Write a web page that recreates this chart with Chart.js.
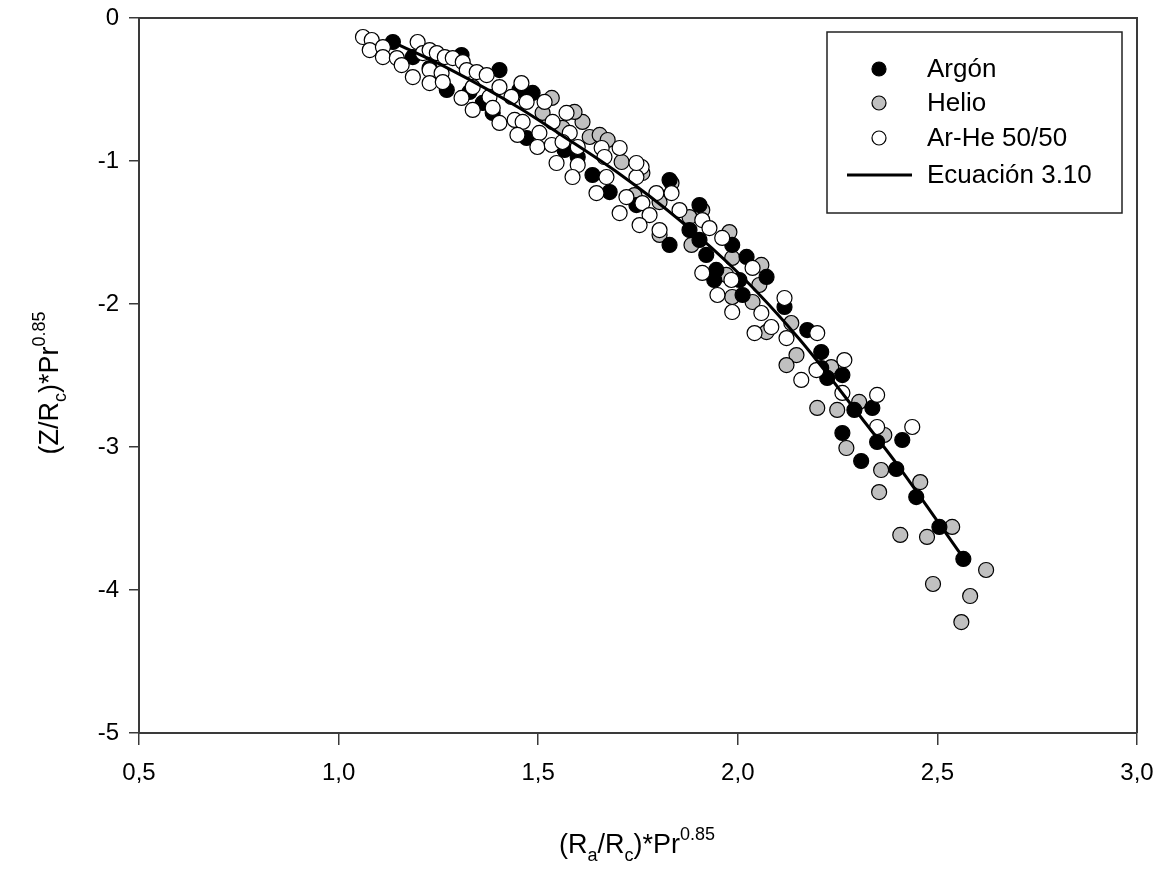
<!DOCTYPE html>
<html>
<head>
<meta charset="utf-8">
<script src="https://cdn.jsdelivr.net/npm/chart.js@4.4.0/dist/chart.umd.min.js"></script>
<style>
html, body { margin: 0; padding: 0; background: #fff; }
#wrap { width: 1157px; height: 869px; }
</style>
</head>
<body>
<div id="wrap"><canvas id="chart" width="1157" height="869"></canvas></div>
<script>
// Argón (black)
const argonX = [1.136, 1.186, 1.228, 1.308, 1.271, 1.328, 1.361, 1.386, 1.403, 1.453,
                1.486, 1.471, 1.566, 1.599, 1.636, 1.679, 1.746, 1.829, 1.829, 1.904,
                1.879, 1.904, 1.986, 1.921, 1.946, 1.941, 2.022, 2.004, 2.072, 2.012,
                2.117, 2.174, 2.209, 2.209, 2.224, 2.262, 2.292, 2.337, 2.262, 2.349,
                2.412, 2.309, 2.397, 2.447, 2.505, 2.565];
const argonY = [-0.168, -0.273, -0.350, -0.259, -0.503, -0.517, -0.594, -0.664, -0.364, -0.503,
                -0.524, -0.839, -0.923, -0.972, -1.098, -1.217, -1.308, -1.133, -1.587, -1.308,
                -1.483, -1.552, -1.587, -1.657, -1.762, -1.832, -1.671, -1.832, -1.811, -1.937,
                -2.021, -2.182, -2.336, -2.448, -2.517, -2.497, -2.741, -2.727, -2.902, -2.965,
                -2.951, -3.098, -3.154, -3.350, -3.559, -3.783];

// Helio (gray)
const helioX = [1.534, 1.511, 1.561, 1.611, 1.591, 1.629, 1.654, 1.674, 1.709, 1.761,
                1.834, 1.741, 1.804, 1.911, 1.879, 1.979, 1.884, 1.804, 1.986, 2.059,
                2.054, 1.971, 1.986, 2.037, 2.134, 2.072, 2.147, 2.122, 2.234, 2.199,
                2.249, 2.304, 2.367, 2.272, 2.359, 2.354, 2.457, 2.407, 2.474, 2.537,
                2.622, 2.489, 2.582, 2.560];
const helioY = [-0.559, -0.664, -0.769, -0.727, -0.657, -0.832, -0.818, -0.853, -1.007, -1.084,
                -1.154, -1.238, -1.287, -1.343, -1.392, -1.497, -1.587, -1.517, -1.678, -1.727,
                -1.867, -1.797, -1.951, -1.986, -2.133, -2.196, -2.357, -2.427, -2.441, -2.727,
                -2.741, -2.685, -2.916, -3.007, -3.161, -3.315, -3.245, -3.615, -3.629, -3.559,
                -3.860, -3.958, -4.042, -4.224];

// Ar-He 50/50 (white)
const mixX = [1.061, 1.083, 1.078, 1.111, 1.111, 1.146, 1.158, 1.198, 1.186, 1.211,
              1.228, 1.246, 1.266, 1.286, 1.228, 1.228, 1.258, 1.261, 1.311, 1.321,
              1.346, 1.371, 1.336, 1.308, 1.336, 1.378, 1.386, 1.403, 1.433, 1.458,
              1.403, 1.441, 1.461, 1.448, 1.471, 1.516, 1.571, 1.536, 1.503, 1.579,
              1.498, 1.534, 1.561, 1.599, 1.546, 1.599, 1.586, 1.659, 1.666, 1.704,
              1.646, 1.671, 1.721, 1.759, 1.746, 1.704, 1.796, 1.834, 1.854, 1.761,
              1.746, 1.779, 1.754, 1.804, 1.911, 1.929, 1.961, 1.911, 1.949, 1.984,
              1.986, 2.037, 2.059, 2.042, 2.117, 2.199, 2.084, 2.122, 2.197, 2.159,
              2.267, 2.262, 2.349, 2.349, 2.437];
const mixY = [-0.133, -0.154, -0.224, -0.203, -0.273, -0.280, -0.329, -0.168, -0.413, -0.245,
              -0.224, -0.245, -0.273, -0.280, -0.364, -0.455, -0.385, -0.448, -0.308, -0.364,
              -0.378, -0.399, -0.483, -0.559, -0.643, -0.552, -0.629, -0.483, -0.552, -0.455,
              -0.734, -0.713, -0.727, -0.818, -0.587, -0.587, -0.664, -0.727, -0.804, -0.804,
              -0.902, -0.888, -0.867, -0.902, -1.014, -1.028, -1.112, -0.909, -0.972, -0.909,
              -1.224, -1.112, -1.252, -1.042, -1.112, -1.364, -1.224, -1.224, -1.343, -1.294,
              -1.014, -1.378, -1.448, -1.483, -1.413, -1.469, -1.538, -1.783, -1.937, -1.832,
              -2.056, -1.748, -2.063, -2.203, -1.958, -2.203, -2.161, -2.238, -2.462, -2.531,
              -2.392, -2.622, -2.636, -2.860, -2.860];

// Ecuación 3.10 (line)
const eqX = [1.136, 1.278, 1.453, 1.554, 1.704, 1.854, 2.004, 2.154, 2.304, 2.404, 2.505, 2.565];
const eqY = [-0.168, -0.357, -0.629, -0.811, -1.091, -1.413, -1.790, -2.245, -2.776, -3.140, -3.538, -3.776];

// axis ticks
const xTicks = [0.5, 1.0, 1.5, 2.0, 2.5, 3.0];
const yTicks = [0, -1, -2, -3, -4, -5];

const FONT = '"Liberation Sans", Arial, sans-serif';
const AXIS_COLOR = '#3a3a3a';

const toPoints = (xs, ys) => xs.map((x, i) => ({ x: x, y: ys[i] }));

// draw text with sub/superscripts, centered on cx
function drawRich(ctx, parts, cx, cy, base) {
    const small = Math.round(base * 0.66);
    let total = 0;
    parts.forEach(p => {
        ctx.font = (p.k === 'n' ? base : small) + 'px ' + FONT;
        p.w = ctx.measureText(p.t).width;
        total += p.w;
    });
    let x = cx - total / 2;
    parts.forEach(p => {
        ctx.font = (p.k === 'n' ? base : small) + 'px ' + FONT;
        let dy = 0;
        if (p.k === 'sub') dy = base * 0.28;
        if (p.k === 'sup') dy = -base * 0.5;
        ctx.fillText(p.t, x, cy + dy);
        x += p.w;
    });
}

const framePlugin = {
    id: 'frame',
    afterDatasetsDraw(chart) {
        const { ctx, chartArea: a } = chart;
        ctx.save();
        ctx.strokeStyle = AXIS_COLOR;
        ctx.lineWidth = 2;
        ctx.beginPath();
        ctx.moveTo(a.left, a.top);
        ctx.lineTo(a.right, a.top);
        ctx.lineTo(a.right, a.bottom);
        ctx.stroke();
        ctx.restore();
    }
};

const titlesPlugin = {
    id: 'titles',
    afterDraw(chart) {
        const ctx = chart.ctx;
        ctx.save();
        ctx.fillStyle = '#000';
        ctx.textAlign = 'left';
        ctx.textBaseline = 'alphabetic';
        drawRich(ctx, [
            { t: '(R', k: 'n' }, { t: 'a', k: 'sub' }, { t: '/R', k: 'n' }, { t: 'c', k: 'sub' },
            { t: ')*Pr', k: 'n' }, { t: '0.85', k: 'sup' }
        ], 637, 853, 27);
        ctx.translate(58, 383);
        ctx.rotate(-Math.PI / 2);
        drawRich(ctx, [
            { t: '(Z/R', k: 'n' }, { t: 'c', k: 'sub' },
            { t: ')*Pr', k: 'n' }, { t: '0.85', k: 'sup' }
        ], 0, 0, 27);
        ctx.restore();
    }
};

const legendPlugin = {
    id: 'boxLegend',
    afterDraw(chart) {
        const ctx = chart.ctx;
        const items = [
            { label: 'Argón', fill: '#000000' },
            { label: 'Helio', fill: '#c0c0c0' },
            { label: 'Ar-He 50/50', fill: '#ffffff' },
            { label: 'Ecuación 3.10', line: true }
        ];
        const rows = [69, 103, 138, 175];
        ctx.save();
        ctx.fillStyle = '#fff';
        ctx.fillRect(827, 32, 295, 181);
        ctx.strokeStyle = '#222';
        ctx.lineWidth = 1.5;
        ctx.strokeRect(827, 32, 295, 181);
        items.forEach((it, i) => {
            const y = rows[i];
            if (it.line) {
                ctx.strokeStyle = '#000';
                ctx.lineWidth = 3;
                ctx.beginPath();
                ctx.moveTo(847, y);
                ctx.lineTo(912, y);
                ctx.stroke();
            } else {
                ctx.beginPath();
                ctx.arc(879, y, 7, 0, Math.PI * 2);
                ctx.fillStyle = it.fill;
                ctx.fill();
                ctx.strokeStyle = '#000';
                ctx.lineWidth = 1.2;
                ctx.stroke();
            }
            ctx.fillStyle = '#000';
            ctx.font = '26px ' + FONT;
            ctx.textAlign = 'left';
            ctx.textBaseline = 'middle';
            ctx.fillText(it.label, 927, y + 1);
        });
        ctx.restore();
    }
};

const markerStyle = (fill) => ({
    backgroundColor: fill,
    borderColor: '#000',
    borderWidth: 1.2,
    pointRadius: 7.5,
    pointHoverRadius: 7.5,
    pointStyle: 'circle'
});

const ctx = document.getElementById('chart').getContext('2d');
new Chart(ctx, {
    type: 'scatter',
    data: {
        datasets: [
            {
                label: 'Ecuación 3.10',
                type: 'line',
                data: toPoints(eqX, eqY),
                borderColor: '#000',
                borderWidth: 3,
                pointRadius: 0,
                fill: false,
                cubicInterpolationMode: 'monotone',
                order: 0
            },
            Object.assign({ label: 'Ar-He 50/50', data: toPoints(mixX, mixY), order: 1 }, markerStyle('#ffffff')),
            Object.assign({ label: 'Argón', data: toPoints(argonX, argonY), order: 2 }, markerStyle('#000000')),
            Object.assign({ label: 'Helio', data: toPoints(helioX, helioY), order: 3 }, markerStyle('#c0c0c0'))
        ]
    },
    options: {
        responsive: false,
        animation: false,
        devicePixelRatio: 1,
        layout: { padding: { top: 18, right: 20, left: 0, bottom: 0 } },
        plugins: {
            legend: { display: false },
            tooltip: { enabled: false }
        },
        scales: {
            x: {
                type: 'linear',
                min: 0.5,
                max: 3.0,
                afterBuildTicks: (s) => { s.ticks = xTicks.map(v => ({ value: v })); },
                afterFit: (s) => { s.height = 136; s.paddingLeft = 0; s.paddingRight = 0; },
                ticks: {
                    callback: (v) => Number(v).toFixed(1).replace('.', ','),
                    font: { size: 24, family: FONT },
                    color: '#000',
                    padding: 14,
                    maxRotation: 0
                },
                grid: { drawOnChartArea: false, drawTicks: true, tickLength: 12, color: AXIS_COLOR, lineWidth: 1.5 },
                border: { display: true, color: AXIS_COLOR, width: 2 }
            },
            y: {
                type: 'linear',
                min: -5,
                max: 0,
                afterBuildTicks: (s) => { s.ticks = yTicks.map(v => ({ value: v })); },
                afterFit: (s) => { s.width = 139; s.paddingTop = 0; s.paddingBottom = 0; },
                ticks: {
                    callback: (v) => String(v),
                    font: { size: 24, family: FONT },
                    color: '#000',
                    padding: 10
                },
                grid: { drawOnChartArea: false, drawTicks: true, tickLength: 10, color: AXIS_COLOR, lineWidth: 1.5 },
                border: { display: true, color: AXIS_COLOR, width: 2 }
            }
        }
    },
    plugins: [framePlugin, titlesPlugin, legendPlugin]
});
</script>
</body>
</html>
